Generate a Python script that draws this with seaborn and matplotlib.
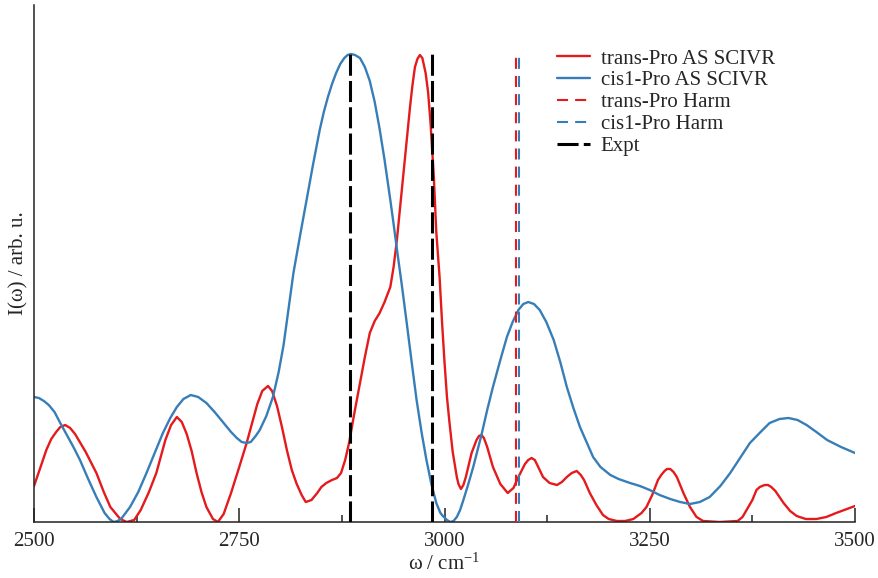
import numpy as np
import pandas as pd
import matplotlib
matplotlib.use("Agg")
import matplotlib.pyplot as plt
from matplotlib.ticker import MultipleLocator
import seaborn as sns

# ---------------- data ----------------
trans_omega = [2500, 2508, 2515, 2521, 2527, 2532, 2538, 2544, 2550, 2563, 2576, 2585, 2593, 2605,
               2613, 2622, 2630, 2640, 2649, 2654, 2660, 2667, 2674, 2680, 2686, 2692, 2698, 2704,
               2710, 2718, 2724, 2731, 2740, 2750, 2759, 2766, 2772, 2778, 2785, 2790, 2796, 2802,
               2808, 2814, 2820, 2826, 2831, 2838, 2845, 2850, 2856, 2863, 2869, 2874, 2879, 2884,
               2890, 2897, 2903, 2909, 2915, 2921, 2927, 2934, 2938, 2942, 2946, 2950, 2954, 2958,
               2961, 2964, 2967, 2970, 2973, 2977, 2980, 2983, 2987, 2990, 2994, 2997, 3000, 3003,
               3006, 3010, 3015, 3017, 3020, 3023, 3026, 3033, 3039, 3042, 3045, 3048, 3052, 3059,
               3068, 3077, 3084, 3090, 3098, 3102, 3106, 3110, 3113, 3120, 3128, 3137, 3143, 3149,
               3155, 3161, 3166, 3170, 3177, 3185, 3193, 3200, 3210, 3220, 3230, 3240, 3246, 3253,
               3260, 3264, 3268, 3271, 3275, 3279, 3283, 3291, 3299, 3307, 3315, 3335, 3357, 3363,
               3368, 3375, 3380, 3384, 3390, 3394, 3398, 3403, 3408, 3413, 3421, 3429, 3440, 3453,
               3465, 3477, 3490, 3500]
trans_int = [36, 55, 72, 83, 90, 95, 97, 94, 88, 70, 49, 30, 15, 3,
             0, 2, 12, 30, 49, 64, 82, 97, 105, 100, 88, 71, 49, 30,
             15, 3, 0, 8, 29, 55, 79, 100, 118, 131, 136, 131, 116, 95,
             72, 52, 38, 27, 20, 22, 29, 35, 39, 42, 44, 49, 62, 80,
             108, 139, 165, 189, 201, 209, 220, 235, 255, 282, 315, 349, 382, 415,
             437, 455, 463, 467, 464, 449, 430, 399, 345, 290, 245, 200, 160, 125,
             100, 70, 45, 38, 33, 37, 45, 69, 82, 86, 87, 84, 75, 55,
             38, 29, 34, 45, 58, 62, 64, 62, 57, 45, 39, 37, 40, 45,
             49, 51, 47, 42, 29, 17, 7, 3, 1, 1, 3, 9, 15, 27,
             42, 47, 51, 53, 53, 50, 45, 29, 15, 5, 1, 0, 1, 5,
             12, 22, 32, 35, 37, 37, 35, 31, 25, 19, 11, 6, 3, 3,
             5, 9, 13, 16]

cis_omega = [2500, 2506, 2512, 2518, 2525, 2532, 2540, 2548, 2556, 2566, 2576, 2586, 2592, 2597,
             2602, 2607, 2617, 2627, 2637, 2647, 2657, 2666, 2674, 2682, 2691, 2700, 2710, 2720,
             2731, 2740, 2747, 2753, 2759, 2764, 2770, 2775, 2783, 2791, 2798, 2804, 2810, 2816,
             2824, 2832, 2840, 2848, 2853, 2858, 2863, 2868, 2873, 2878, 2882, 2886, 2891, 2897,
             2903, 2909, 2915, 2921, 2927, 2934, 2938, 2942, 2948, 2954, 2960, 2966, 2972, 2978,
             2984, 2990, 2995, 2998, 3003, 3007, 3011, 3015, 3019, 3023, 3029, 3035, 3040, 3045,
             3052, 3059, 3068, 3076, 3083, 3090, 3096, 3102, 3109, 3116, 3124, 3133, 3141, 3149,
             3157, 3165, 3173, 3181, 3190, 3202, 3212, 3226, 3238, 3250, 3262, 3275, 3287, 3299,
             3311, 3323, 3336, 3348, 3360, 3372, 3385, 3396, 3408, 3419, 3430, 3441, 3453, 3466,
             3483, 3500]
cis_int = [125, 124, 121, 117, 110, 99, 87, 75, 62, 43, 25, 9, 3, 0,
           1, 4, 15, 30, 49, 69, 89, 104, 115, 123, 127, 125, 119, 110,
           99, 90, 84, 80, 79, 80, 86, 92, 106, 125, 150, 177, 213, 249,
           286, 322, 358, 392, 410, 425, 438, 449, 458, 464, 467, 468, 467, 464,
           455, 441, 420, 393, 362, 322, 298, 273, 237, 199, 160, 122, 90, 62,
           38, 19, 9, 6, 2, 0, 1, 5, 12, 22, 38, 55, 71, 87,
           112, 135, 162, 185, 200, 212, 218, 220, 218, 212, 200, 182, 160, 135,
           114, 95, 80, 65, 55, 47, 43, 39, 36, 32, 27, 23, 20, 18,
           20, 25, 36, 49, 64, 79, 90, 99, 103, 104, 102, 97, 90, 82,
           75, 69]

trans_harm_omega = [3087]
cis_harm_omega = [3091]
harm_int = [467]
expt_omega = [2885, 2985]
expt_int = [468, 468]

labels = ["trans-Pro AS SCIVR", "cis1-Pro AS SCIVR", "trans-Pro Harm", "cis1-Pro Harm", "Expt"]

# normalisation (arbitrary units)
norm = 468.0

# ---------------- style ----------------
sns.set_theme(style="white")
plt.rcParams["font.family"] = ["Liberation Serif", "DejaVu Serif"]
plt.rcParams["mathtext.fontset"] = "custom"
plt.rcParams["mathtext.rm"] = "Liberation Serif"
plt.rcParams["mathtext.default"] = "regular"

pal = sns.color_palette("Set1")
red, blue = pal[0], pal[1]

fig = plt.figure(figsize=(8.79, 5.78), dpi=100)
ax = fig.add_axes([34 / 879, 56 / 578, (855 - 34) / 879, (522 - 5) / 578])

df_t = pd.DataFrame({"omega": trans_omega, "I": np.array(trans_int) / norm})
df_c = pd.DataFrame({"omega": cis_omega, "I": np.array(cis_int) / norm})

sns.lineplot(data=df_t, x="omega", y="I", color=red, lw=1.7, label=labels[0], ax=ax,
             estimator=None, sort=False)
sns.lineplot(data=df_c, x="omega", y="I", color=blue, lw=1.7, label=labels[1], ax=ax,
             estimator=None, sort=False)
for line in ax.lines:
    line.set_solid_joinstyle("round")

for w in trans_harm_omega:
    ax.plot([w, w], [0, harm_int[0] / norm], color=red, lw=1.5, dashes=(5.3, 3.4),
            label=labels[2], zorder=4)
for w in cis_harm_omega:
    ax.plot([w, w], [0, harm_int[0] / norm], color=blue, lw=1.5, dashes=(5.3, 3.4),
            label=labels[3], zorder=4)
for i, (w, h) in enumerate(zip(expt_omega, expt_int)):
    ax.plot([w, w], [0, h / norm], color="black", lw=2.2, dashes=(6.9, 1.7),
            label=labels[4] if i == 0 else None, zorder=5)

ax.set_xlim(2500, 3500)
ax.set_ylim(0, 517 / norm)
ax.xaxis.set_major_locator(MultipleLocator(250))
ax.xaxis.set_minor_locator(MultipleLocator(125))
ax.set_yticks([])
ax.tick_params(axis="x", which="major", direction="in", length=10, width=1.1,
               color="#222222", labelsize=15, pad=7, bottom=True)
ax.tick_params(axis="x", which="minor", direction="in", length=5, width=1.1,
               color="#222222", bottom=True)
for s in ["top", "right"]:
    ax.spines[s].set_visible(False)
for s in ["left", "bottom"]:
    ax.spines[s].set_color("#222222")
    ax.spines[s].set_linewidth(1.1)

ax.set_xlabel("ω / cm$^{-1}$", fontsize=15, labelpad=2)
ax.set_ylabel("I(ω) / arb. u.", fontsize=15, labelpad=4)

h, l = ax.get_legend_handles_labels()
order = [l.index(x) for x in labels]
ax.legend([h[i] for i in order], [l[i] for i in order], loc="upper left",
          bbox_to_anchor=((557 - 34) / 821, (522 - 49) / 517), frameon=False,
          fontsize=15, handlelength=1.6, handletextpad=0.5, labelspacing=0.11,
          borderpad=0, borderaxespad=0)

fig.savefig("out.png", dpi=100)
